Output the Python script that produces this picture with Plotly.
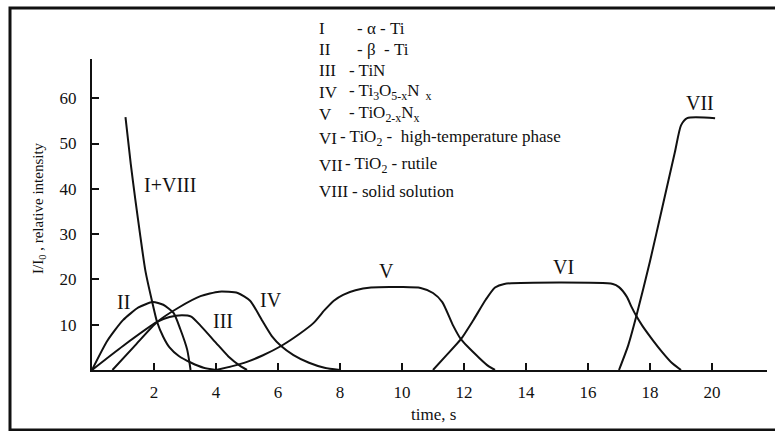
import plotly.graph_objects as go

# ---- data ----
t_I_VIII = [1.08, 1.25, 1.4, 1.56, 1.72, 1.95, 2.1, 2.3, 2.5, 2.8, 3.2, 3.6, 4.0]
v_I_VIII = [55.8, 45.5, 37.5, 29.5, 22.0, 14.8, 10.6, 7.3, 5.0, 3.1, 1.6, 0.5, 0.0]

t_II = [0.0, 0.5, 1.0, 1.5, 1.96, 2.3, 2.63, 2.85, 3.07, 3.18]
v_II = [0.0, 6.5, 11.0, 13.8, 15.0, 14.4, 12.6, 9.0, 4.5, 0.0]

t_III = [0.0, 1.0, 2.1, 2.5, 2.9, 3.2, 3.5, 4.0, 4.4, 4.8, 5.0]
v_III = [0.0, 5.3, 10.6, 11.7, 12.1, 11.8, 9.8, 6.0, 3.0, 0.8, 0.0]

t_IV = [0.66, 1.4, 2.1, 2.8, 3.5, 4.1, 4.7, 5.1, 5.5, 5.8, 6.1, 6.5, 7.0, 7.5, 8.0]
v_IV = [0.0, 5.5, 10.6, 13.8, 16.3, 17.3, 17.0, 15.3, 10.8, 7.5, 5.3, 3.3, 1.6, 0.5, 0.0]

t_V = [4.0, 4.5, 5.0, 5.5, 6.1, 6.7, 7.15, 7.5, 7.8, 8.1, 8.5, 9.0, 10.0, 10.6, 11.0, 11.3, 11.65, 11.9, 12.5, 12.8, 13.0]
v_V = [0.0, 0.8, 1.8, 3.2, 5.3, 8.0, 10.4, 13.2, 15.3, 16.6, 17.6, 18.2, 18.3, 18.1, 17.0, 15.0, 9.8, 6.8, 2.6, 0.8, 0.0]

t_VI = [11.0, 11.4, 11.9, 12.3, 12.7, 13.0, 13.3, 16.8, 17.0, 17.25, 17.4, 17.56, 17.75, 18.1, 18.4, 18.7, 19.0]
v_VI = [0.0, 3.0, 6.8, 11.0, 15.5, 18.2, 19.0, 19.0, 18.3, 16.2, 14.0, 11.9, 9.8, 6.5, 3.9, 1.6, 0.0]

t_VII = [17.0, 17.3, 17.56, 18.0, 18.4, 18.8, 19.0, 19.2, 20.1]
v_VII = [0.0, 5.5, 11.9, 24.0, 36.0, 48.0, 54.0, 55.6, 55.6]

curves = [(t_I_VIII, v_I_VIII), (t_II, v_II), (t_III, v_III), (t_IV, v_IV),
          (t_V, v_V), (t_VI, v_VI), (t_VII, v_VII)]

curve_labels = ["I+VIII", "II", "III", "IV", "V", "VI", "VII"]
label_t = [2.53, 1.02, 4.24, 5.76, 9.5, 15.2, 19.6]
label_v = [40.8, 15.0, 10.8, 15.5, 21.9, 22.7, 59.0]

x_ticks = [2, 4, 6, 8, 10, 12, 14, 16, 18, 20]
y_ticks = [10, 20, 30, 40, 50, 60]

legend_num = ["I", "II", "III", "IV", "V", "VI", "VII", "VIII"]
legend_txt = ["- α - Ti", "- β  - Ti", "- TiN",
              "- Ti<sub>3</sub>O<sub>5-x</sub>N<sub>  x</sub>",
              "- TiO<sub>2-x</sub>N<sub>x</sub>",
              "- TiO<sub>2</sub> -  high-temperature phase",
              "- TiO<sub>2</sub> - rutile",
              "- solid solution"]

# ---- layout geometry ----
W, H = 775, 431
L, R, T, B = 92, 775 - 767, 59, 431 - 370
PW, PH = W - L - R, H - T - B
FONT = "Liberation Serif, Times New Roman, serif"
INK = "#111"


def px(x):
    return (x - L) / PW


def py(y):
    return (H - B - y) / PH


fig = go.Figure()
for tx, vy in curves:
    fig.add_trace(go.Scatter(x=tx, y=vy, mode="lines",
                             line=dict(color=INK, width=2, shape="spline", smoothing=0.6),
                             showlegend=False, hoverinfo="skip", cliponaxis=False))

annotations = []
for lab, xt, yv in zip(curve_labels, label_t, label_v):
    annotations.append(dict(x=xt, y=yv, xref="x", yref="y", text=lab, showarrow=False,
                            xanchor="center", yanchor="middle",
                            font=dict(family=FONT, size=20, color=INK)))

leg_y = [28, 49, 70, 92, 114, 138, 165, 192]
leg_x2 = [355, 355, 347, 347, 347, 338, 343, 350]
for n, txt, yy, x2 in zip(legend_num, legend_txt, leg_y, leg_x2):
    annotations.append(dict(x=px(317), y=py(yy), xref="paper", yref="paper", text=n,
                            showarrow=False, xanchor="left", yanchor="middle",
                            font=dict(family=FONT, size=17, color=INK)))
    annotations.append(dict(x=px(x2), y=py(yy), xref="paper", yref="paper", text=txt,
                            showarrow=False, xanchor="left", yanchor="middle",
                            font=dict(family=FONT, size=17, color=INK)))

annotations.append(dict(x=px(433), y=py(414), xref="paper", yref="paper", text="time, s",
                        showarrow=False, xanchor="center", yanchor="middle",
                        font=dict(family=FONT, size=17, color=INK)))
annotations.append(dict(x=px(39), y=py(208), xref="paper", yref="paper",
                        text="I/I<sub>0</sub> , relative intensity", textangle=-90,
                        showarrow=False, xanchor="center", yanchor="middle",
                        font=dict(family=FONT, size=15, color=INK)))

shapes = [dict(type="rect", xref="paper", yref="paper", x0=px(10), x1=px(800),
               y0=py(430), y1=py(8), line=dict(color=INK, width=3))]

fig.update_layout(
    width=W, height=H, margin=dict(l=L, r=R, t=T, b=B),
    paper_bgcolor="white", plot_bgcolor="white",
    font=dict(family=FONT, size=17, color=INK),
    annotations=annotations, shapes=shapes,
    xaxis=dict(range=[0, (767 - L) / 31.0], showgrid=False, zeroline=False,
               showline=True, linecolor=INK, linewidth=2,
               tickmode="array", tickvals=x_ticks, ticktext=[str(v) for v in x_ticks],
               ticks="inside", ticklen=7, tickwidth=2, tickcolor=INK,
               ticklabelstandoff=6, tickfont=dict(family=FONT, size=17, color=INK)),
    yaxis=dict(range=[0, (370 - 59) / 4.53], showgrid=False, zeroline=False,
               showline=True, linecolor=INK, linewidth=2,
               tickmode="array", tickvals=y_ticks, ticktext=[str(v) for v in y_ticks],
               ticks="inside", ticklen=7, tickwidth=2, tickcolor=INK,
               ticklabelstandoff=10, tickfont=dict(family=FONT, size=17, color=INK)),
)

fig.write_html("out.html")
